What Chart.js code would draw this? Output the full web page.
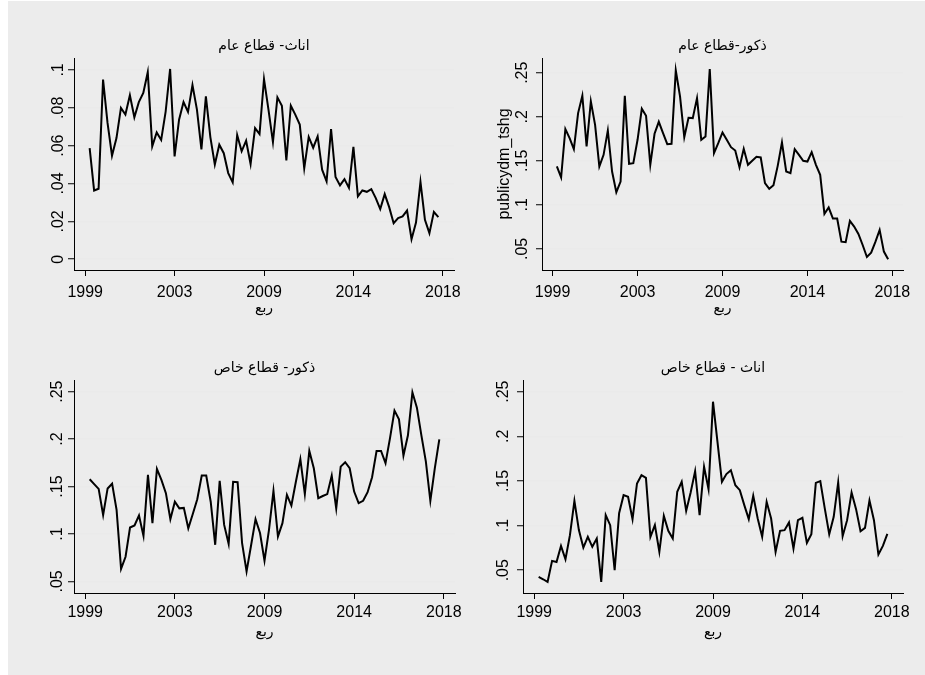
<!DOCTYPE html>
<html>
<head>
<meta charset="utf-8">
<script src="https://cdn.jsdelivr.net/npm/chart.js@4.4.1/dist/chart.umd.min.js"></script>
<style>
  html, body { margin: 0; padding: 0; background: #ffffff; }
  #frame { position: absolute; left: 8px; top: 1px; width: 917px; height: 674px; background: #ececec; }
  canvas { position: absolute; left: 0; top: 0; }
</style>
</head>
<body>
<div id="frame"></div>
<canvas id="c1" width="925" height="675"></canvas>
<canvas id="c2" width="925" height="675"></canvas>
<canvas id="c3" width="925" height="675"></canvas>
<canvas id="c4" width="925" height="675"></canvas>
<script>
// Quarterly series, one value per quarter (79 quarters)
const femalePublic = [
  0.0587, 0.0363, 0.0372, 0.0949, 0.0720, 0.0547, 0.0640, 0.0799, 0.0764, 0.0866,
  0.0750, 0.0830, 0.0878, 0.0988, 0.0596, 0.0670, 0.0630, 0.0780, 0.1005, 0.0543,
  0.0737, 0.0830, 0.0778, 0.0920, 0.0790, 0.0580, 0.0860, 0.0645, 0.0500, 0.0605,
  0.0560, 0.0455, 0.0406, 0.0656, 0.0570, 0.0626, 0.0503, 0.0693, 0.0661, 0.0952,
  0.0790, 0.0619, 0.0855, 0.0811, 0.0522, 0.0811, 0.0764, 0.0711, 0.0480, 0.0646,
  0.0589, 0.0649, 0.0473, 0.0411, 0.0688, 0.0434, 0.0390, 0.0423, 0.0377, 0.0593,
  0.0332, 0.0363, 0.0356, 0.0370, 0.0323, 0.0265, 0.0344, 0.0275, 0.0190, 0.0217,
  0.0226, 0.0257, 0.0106, 0.0194, 0.0409, 0.0208, 0.0138, 0.0250, 0.0222
];
const malePublic = [
  0.1436, 0.1311, 0.1860, 0.1758, 0.1633, 0.2042, 0.2239, 0.1663, 0.2174, 0.1909,
  0.1436, 0.1568, 0.1845, 0.1379, 0.1144, 0.1265, 0.2239, 0.1466, 0.1473, 0.1739,
  0.2091, 0.2011, 0.1455, 0.1807, 0.1943, 0.1814, 0.1689, 0.1693, 0.2527, 0.2231,
  0.1769, 0.1989, 0.1985, 0.2212, 0.1739, 0.1777, 0.2542, 0.1587, 0.1700, 0.1822,
  0.1739, 0.1655, 0.1617, 0.1428, 0.1636, 0.1455, 0.1500, 0.1545, 0.1538, 0.1246,
  0.1182, 0.1223, 0.1443, 0.1708, 0.1379, 0.1360, 0.1633, 0.1568, 0.1500, 0.1492,
  0.1598, 0.1455, 0.1341, 0.0898, 0.0970, 0.0845, 0.0845, 0.0583, 0.0576, 0.0818,
  0.0754, 0.0670, 0.0545, 0.0409, 0.0458, 0.0580, 0.0716, 0.0470, 0.0383
];
const malePrivate = [
  0.1577, 0.1525, 0.1475, 0.1200, 0.1480, 0.1530, 0.1254, 0.0633, 0.0760, 0.1068,
  0.1090, 0.1195, 0.0980, 0.1623, 0.1114, 0.1686, 0.1570, 0.1430, 0.1156, 0.1340,
  0.1270, 0.1275, 0.1060, 0.1210, 0.1367, 0.1616, 0.1616, 0.1340, 0.0886, 0.1560,
  0.1096, 0.0896, 0.1550, 0.1546, 0.0904, 0.0605, 0.0879, 0.1156, 0.1010, 0.0718,
  0.1044, 0.1454, 0.0974, 0.1114, 0.1412, 0.1300, 0.1550, 0.1788, 0.1420, 0.1875,
  0.1693, 0.1377, 0.1400, 0.1420, 0.1616, 0.1270, 0.1710, 0.1756, 0.1693, 0.1447,
  0.1325, 0.1350, 0.1440, 0.1598, 0.1875, 0.1875, 0.1746, 0.2010, 0.2300, 0.2209,
  0.1826, 0.2040, 0.2493, 0.2332, 0.2040, 0.1763, 0.1350, 0.1693, 0.1998
];
const femalePrivate = [
  0.0425, 0.0399, 0.0369, 0.0605, 0.0593, 0.0773, 0.0623, 0.0893, 0.1278, 0.0950,
  0.0754, 0.0874, 0.0762, 0.0855, 0.0369, 0.1117, 0.1005, 0.0500, 0.1139, 0.1341,
  0.1322, 0.1072, 0.1472, 0.1565, 0.1535, 0.0874, 0.1005, 0.0706, 0.1109, 0.0941,
  0.0855, 0.1379, 0.1491, 0.1165, 0.1371, 0.1610, 0.1117, 0.1659, 0.1409, 0.2388,
  0.1939, 0.1491, 0.1577, 0.1621, 0.1453, 0.1397, 0.1229, 0.1072, 0.1334, 0.1079,
  0.0874, 0.1266, 0.1079, 0.0706, 0.0941, 0.0949, 0.1035, 0.0743, 0.1061, 0.1087,
  0.0807, 0.0904, 0.1479, 0.1498, 0.1192, 0.0904, 0.1098, 0.1483, 0.0881, 0.1061,
  0.1371, 0.1184, 0.0937, 0.0975, 0.1281, 0.1061, 0.0676, 0.0773, 0.0907
];

// Time axis: quarter index, labelled every 20 quarters
const xTickValues = [0, 20, 40, 60, 80];
const xTickLabels = ['1999', '2003', '2009', '2014', '2018'];

const yTicksSmall = [0, 0.02, 0.04, 0.06, 0.08, 0.1];
const yLabelsSmall = ['0', '.02', '.04', '.06', '.08', '.1'];
const yTicksLarge = [0.05, 0.1, 0.15, 0.2, 0.25];
const yLabelsLarge = ['.05', '.1', '.15', '.2', '.25'];

const panelTitles = ['اناث- قطاع عام', 'ذكور-قطاع عام', 'ذكور- قطاع خاص', 'اناث - قطاع خاص'];
const xAxisTitle = 'ربع';
const yAxisTitleMalePublic = 'publicydm_tshg';

const W = 925, H = 675;
const NUM_FONT = '"Liberation Sans", Arial, sans-serif';
const AR_FONT = '"DejaVu Sans", sans-serif';

function panelText(cfg) {
  return {
    id: 'panelText',
    afterDraw(chart) {
      const ctx = chart.ctx;
      const a = chart.chartArea;
      const xs = chart.scales.x, ys = chart.scales.y;
      const cx = (a.left + a.right) / 2;
      ctx.save();
      ctx.fillStyle = '#000';
      // x tick labels
      ctx.font = '16px ' + NUM_FONT;
      ctx.textAlign = 'center';
      ctx.textBaseline = 'alphabetic';
      xTickValues.forEach((v, i) => {
        ctx.fillText(xTickLabels[i], xs.getPixelForValue(v), a.bottom + cfg.xLabelGap);
      });
      // y tick labels, rotated
      cfg.yTicks.forEach((v, i) => {
        const py = ys.getPixelForValue(v);
        ctx.save();
        ctx.translate(a.left - cfg.yLabelGap, py);
        ctx.rotate(-Math.PI / 2);
        ctx.fillText(cfg.yLabels[i], 0, 0);
        ctx.restore();
      });
      // y axis title
      if (cfg.yTitle) {
        ctx.save();
        ctx.translate(a.left - cfg.yTitleGap, (a.top + a.bottom) / 2);
        ctx.rotate(-Math.PI / 2);
        ctx.fillText(cfg.yTitle, 0, 0);
        ctx.restore();
      }
      // panel title and x axis title (Arabic)
      ctx.direction = 'rtl';
      ctx.font = '14px ' + AR_FONT;
      ctx.textBaseline = 'middle';
      ctx.fillText(cfg.title, cx, a.top - cfg.titleGap);
      ctx.fillText(xAxisTitle, cx, a.bottom + cfg.xTitleGap);
      ctx.restore();
    }
  };
}

function makePanel(id, series, area, yMin, yMax, yTicks, yLabels, text) {
  const points = series.map((v, i) => ({ x: i + 1, y: v }));
  new Chart(document.getElementById(id), {
    type: 'line',
    data: {
      datasets: [{
        data: points,
        borderColor: '#000000',
        borderWidth: 2,
        pointRadius: 0,
        tension: 0,
        fill: false
      }]
    },
    options: {
      responsive: false,
      animation: false,
      events: [],
      layout: { padding: { left: area.l, top: area.t, right: W - area.r, bottom: H - area.b } },
      plugins: { legend: { display: false }, tooltip: { enabled: false }, title: { display: false } },
      scales: {
        x: {
          type: 'linear',
          min: -2.5,
          max: 82.5,
          afterBuildTicks: s => { s.ticks = xTickValues.map(v => ({ value: v })); },
          afterFit: s => { s.height = 0; },
          ticks: { display: false },
          grid: { drawOnChartArea: false, drawTicks: true, tickLength: 6, tickColor: '#000', tickWidth: 1 },
          border: { display: true, color: '#000', width: 1 }
        },
        y: {
          type: 'linear',
          min: yMin,
          max: yMax,
          afterBuildTicks: s => { s.ticks = yTicks.map(v => ({ value: v })); },
          afterFit: s => { s.width = 0; },
          ticks: { display: false },
          grid: { drawOnChartArea: true, color: '#eaeaea', lineWidth: 1.5, drawTicks: true, tickLength: 6, tickColor: '#000', tickWidth: 1 },
          border: { display: true, color: '#000', width: 1 }
        }
      }
    },
    plugins: [panelText(Object.assign({ yTicks, yLabels }, text))]
  });
}

makePanel('c1', femalePublic, { l: 74, t: 58, r: 454, b: 270 }, -0.0057, 0.1063,
  yTicksSmall, yLabelsSmall,
  { title: panelTitles[0], xLabelGap: 27, yLabelGap: 11.5, titleGap: 12, xTitleGap: 38 });
makePanel('c2', malePublic, { l: 542, t: 58, r: 903, b: 270 }, 0.0261, 0.2667,
  yTicksLarge, yLabelsLarge,
  { title: panelTitles[1], xLabelGap: 27, yLabelGap: 15, yTitle: yAxisTitleMalePublic, yTitleGap: 33, titleGap: 12, xTitleGap: 38 });
makePanel('c3', malePrivate, { l: 74, t: 380, r: 455, b: 593 }, 0.0378, 0.2623,
  yTicksLarge, yLabelsLarge,
  { title: panelTitles[2], xLabelGap: 24, yLabelGap: 12.5, titleGap: 12, xTitleGap: 39 });
makePanel('c4', femalePrivate, { l: 523, t: 380, r: 903, b: 593 }, 0.0245, 0.2631,
  yTicksLarge, yLabelsLarge,
  { title: panelTitles[3], xLabelGap: 24, yLabelGap: 15, titleGap: 12, xTitleGap: 39 });
</script>
</body>
</html>
